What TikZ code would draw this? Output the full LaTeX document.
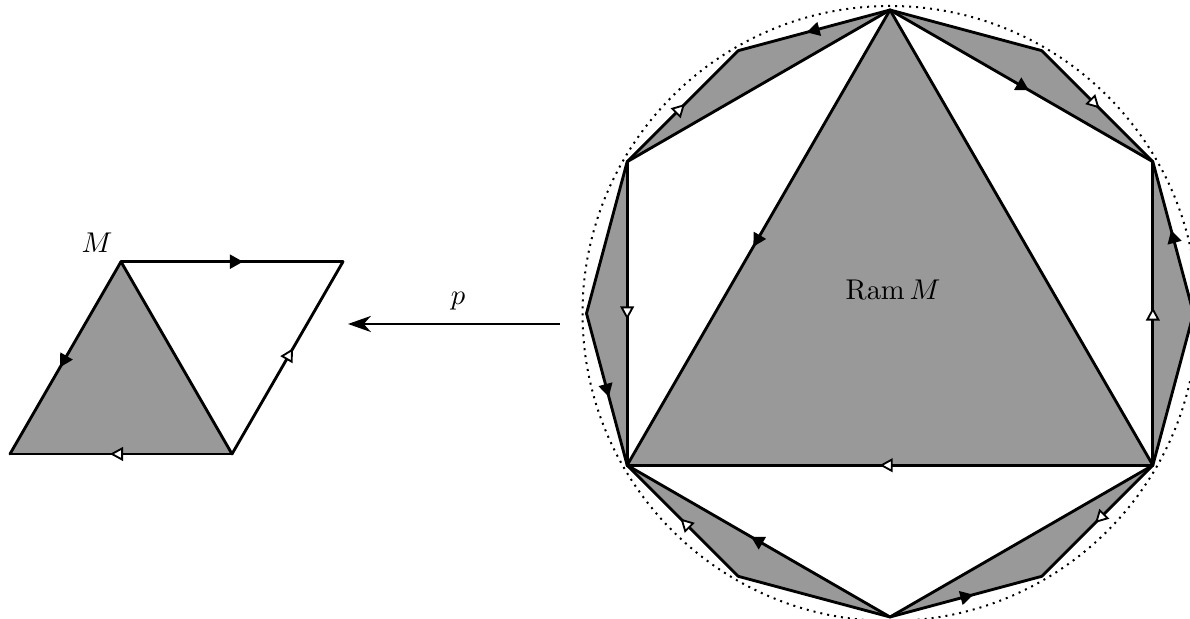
\documentclass[tikz,border=0pt]{standalone}
\usetikzlibrary{arrows.meta,decorations.markings,calc}
\begin{document}
\begin{tikzpicture}[x=0.35pt,y=0.35pt,
  edge/.style={line width=1pt, line cap=round},
  blk/.style={postaction={decorate}, decoration={markings, mark=at position #1 with {\arrow{Triangle[length=4.6pt,width=4.8pt]}}}},
  blk/.default=0.55,
  wht/.style={postaction={decorate}, decoration={markings, mark=at position #1 with {\arrow{Triangle[length=4.6pt,width=4.8pt,fill=white,line width=0.65pt]}}}},
  wht/.default=0.55,
  region/.style={fill=black!40},
  dotcirc/.style={line width=0.7pt, dash pattern=on 0.7pt off 1.75pt}]
\useasboundingbox (0,0) rectangle (1190,619);
% ---------- left: M ----------
\coordinate (A) at (121,357.3);
\coordinate (B) at (343,357.3);
\coordinate (D) at (232,165);
\coordinate (E) at (10,165);
\fill[region] (A)--(E)--(D)--cycle;
\draw[edge,blk] (A)--(B);
\draw[edge,blk] (A)--(E);
\draw[edge,wht] (D)--(E);
\draw[edge,wht] (D)--(B);
\draw[edge] (A)--(D);
\node (Mlab) at (97,376) {$M$};
% ---------- covering map p ----------
\coordinate (p1) at (560,295);
\coordinate (p2) at (348,295);
\draw[line width=1pt,-{Stealth[length=8pt,width=5.6pt,inset=2.5pt]}] (p1)--(p2);
\node (plab) at (458,318) {$p$};
% ---------- right: Ram M ----------
\coordinate (C) at (890,305.5);
\foreach \a in {0,30,...,330} \coordinate (P\a) at ($(C)+(\a:303.5)$);
\fill[region] (P90)--(P210)--(P330)--cycle;
\fill[region] (P90)--(P120)--(P150)--cycle;
\fill[region] (P90)--(P60)--(P30)--cycle;
\fill[region] (P30)--(P0)--(P330)--cycle;
\fill[region] (P150)--(P180)--(P210)--cycle;
\fill[region] (P210)--(P240)--(P270)--cycle;
\fill[region] (P270)--(P300)--(P330)--cycle;
\draw[dotcirc] (C) circle (307.5);
% triangle and hexagon
\draw[edge] (P90)--(P330);
\draw[edge,blk=0.52] (P90)--(P210);
\draw[edge,wht=0.52] (P330)--(P210);
\draw[edge,wht=0.52] (P150)--(P210);
\draw[edge,wht=0.52] (P330)--(P30);
\draw[edge] (P90)--(P150);
\draw[edge,blk=0.53] (P90)--(P30);
\draw[edge,blk=0.53] (P270)--(P210);
\draw[edge] (P270)--(P330);
% outer edges
\draw[edge,blk] (P90)--(P120);
\draw[edge,wht=0.52] (P150)--(P120);
\draw[edge] (P90)--(P60);
\draw[edge,wht=0.52] (P60)--(P30);
\draw[edge,blk] (P0)--(P30);
\draw[edge] (P0)--(P330);
\draw[edge] (P150)--(P180);
\draw[edge,blk] (P180)--(P210);
\draw[edge,wht=0.52] (P240)--(P210);
\draw[edge] (P240)--(P270);
\draw[edge,blk] (P270)--(P300);
\draw[edge,wht=0.52] (P330)--(P300);
\node (ram) at (893,329) {$\mathrm{Ram}\,M$};
\end{tikzpicture}
\end{document}
